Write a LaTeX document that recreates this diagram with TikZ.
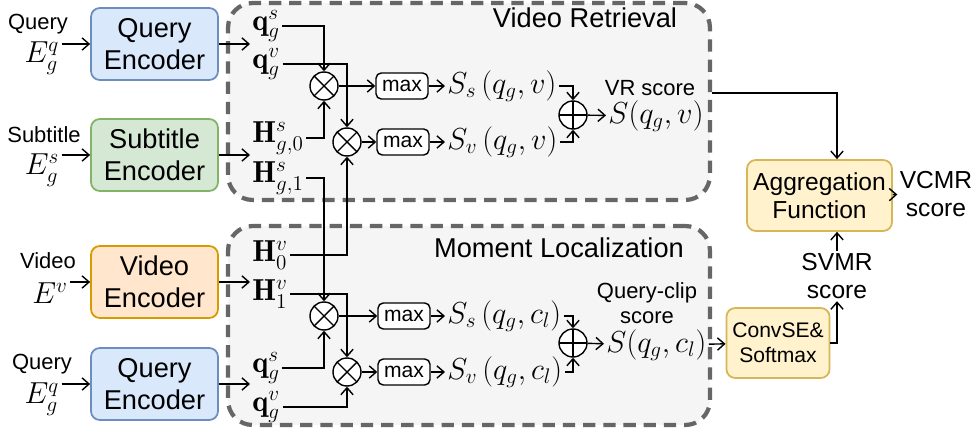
\documentclass[tikz,border=0pt]{standalone}
\usepackage{amsmath,amssymb}
\usepackage{fontspec}
\setsansfont{Liberation Sans}
\usetikzlibrary{arrows.meta}
\usetikzlibrary{positioning}
\definecolor{qfill}{HTML}{DAE8FC}
\definecolor{qdraw}{HTML}{6C8EBF}
\definecolor{sfill}{HTML}{D5E8D4}
\definecolor{sdraw}{HTML}{82B366}
\definecolor{vfill}{HTML}{FFE6CC}
\definecolor{vdraw}{HTML}{D79B00}
\definecolor{afill}{HTML}{FFF2CC}
\definecolor{adraw}{HTML}{D6B656}
\definecolor{regfill}{HTML}{F5F5F5}
\definecolor{regdraw}{HTML}{666666}

\begin{document}
\begin{tikzpicture}[x=0.02cm, y=-0.02cm, line width=0.8pt,
    >={Straight Barb[length=4pt,width=7pt]},
    enc/.style={draw, rounded corners=5pt, line width=1pt, minimum width=2.54cm, minimum height=1.44cm, align=center, font=\sffamily\fontsize{15.5}{18}\selectfont},
    region/.style={draw=regdraw, fill=regfill, dash pattern=on 7pt off 4.5pt, line width=2.4pt, rounded corners=14pt, minimum width=9.64cm, inner sep=0pt},
    lab/.style={font=\sffamily\fontsize{12.5}{14}\selectfont, inner sep=1pt, align=center},
    title/.style={font=\sffamily\fontsize{15.5}{18}\selectfont, inner sep=1pt},
    vec/.style={font=\fontsize{17.28}{20}\selectfont, inner sep=1pt},
    maxbox/.style={draw, fill=white, rounded corners=3pt, minimum width=1.04cm, minimum height=0.52cm, inner sep=0pt, font=\sffamily\fontsize{12}{14}\selectfont},
    mul/.style={circle, draw, fill=white, minimum size=0.56cm, inner sep=0pt,
        path picture={\draw (path picture bounding box.north west) -- (path picture bounding box.south east)
            (path picture bounding box.north east) -- (path picture bounding box.south west);}},
    add/.style={circle, draw, fill=white, minimum size=0.56cm, inner sep=0pt,
        path picture={\draw (path picture bounding box.north) -- (path picture bounding box.south)
            (path picture bounding box.west) -- (path picture bounding box.east);}},
    score/.style={draw=adraw, fill=afill, rounded corners=5pt, line width=1pt, align=center}]
    \useasboundingbox (0,0) rectangle (976,432);
    % the two dashed stages
    \node[region, minimum height=3.94cm] (vrbox) at (469,101.5) {};
    \node[region, minimum height=3.98cm] (mlbox) at (469,325.5) {};
    \node[title] (vrtitle) at (585,18) {Video Retrieval};
    \node[title] (mltitle) at (559,248) {Moment Localization};
    % encoders and their inputs
    \node[enc, fill=qfill, draw=qdraw] (qenc1) at (154.5,44) {Query\\Encoder};
    \node[enc, fill=sfill, draw=sdraw] (senc) at (154.5,155) {Subtitle\\Encoder};
    \node[enc, fill=vfill, draw=vdraw] (venc) at (154.5,282) {Video\\Encoder};
    \node[enc, fill=qfill, draw=qdraw] (qenc2) at (154.5,384) {Query\\Encoder};
    \node[lab] (qin1) at (38,24) {Query};
    \node[lab] (sin) at (44,135) {Subtitle};
    \node[lab] (vin) at (48,261) {Video};
    \node[lab] (qin2) at (42,364) {Query};
    \node[vec] (eq1) at (42,58) {$E_g^q$};
    \node[vec] (es) at (42,170) {$E_g^s$};
    \node[vec] (ev) at (50,293) {$E^v$};
    \node[vec] (eq2) at (42,399) {$E_g^q$};
    \draw[->] (eq1.east |- qenc1) -- (qenc1);
    \draw[->] (es.east |- senc) -- (senc);
    \draw[->] (ev.east |- venc) -- (venc);
    \draw[->] (eq2.east |- qenc2) -- (qenc2);
    % features
    \node[vec, anchor=west] (qs1) at (250,26) {$\mathbf{q}_g^s$};
    \node[vec, anchor=west] (qv1) at (250,64) {$\mathbf{q}_g^v$};
    \node[vec, anchor=west] (hs0) at (250,138) {$\mathbf{H}_{g,0}^s$};
    \node[vec, anchor=west] (hs1) at (250,178) {$\mathbf{H}_{g,1}^s$};
    \node[vec, anchor=west] (hv0) at (250,255) {$\mathbf{H}_0^v$};
    \node[vec, anchor=west] (hv1) at (250,294) {$\mathbf{H}_1^v$};
    \node[vec, anchor=west] (qs2) at (250,368) {$\mathbf{q}_g^s$};
    \node[vec, anchor=west] (qv2) at (250,407) {$\mathbf{q}_g^v$};
    \draw[->] (qenc1) -- (qenc1 -| qs1.west);
    \draw[->] (senc) -- (senc -| hs0.west);
    \draw[->] (venc) -- (venc -| hv1.west);
    \draw[->] (qenc2) -- (qenc2 -| qs2.west);
    % products and max pooling
    \node[mul] (mul1) at (324,86) {};
    \node[mul] (mul2) at (347,142) {};
    \node[mul] (mul3) at (324,316) {};
    \node[mul] (mul4) at (347,372) {};
    \draw[->] (qs1.east) -| (mul1);
    \draw[->] (qv1.east) -| (mul2);
    \draw[->] (hs0.east) -| (mul1);
    \draw[->] (hs1.east) -| (mul3);
    \draw[->] (hv0.east) -| (mul2);
    \draw[->] (hv1.east) -| (mul4);
    \draw[->] (qs2.east) -| (mul3);
    \draw[->] (qv2.east) -| (mul4);
    \node[maxbox] (max1) at (402,86) {max};
    \node[maxbox] (max2) at (403,142) {max};
    \node[maxbox] (max3) at (404,316) {max};
    \node[maxbox] (max4) at (404,372) {max};
    \draw[->] (mul1) -- (max1);
    \draw[->] (mul2) -- (max2);
    \draw[->] (mul3) -- (max3);
    \draw[->] (mul4) -- (max4);
    % scores
    \node[vec, anchor=west] (ss1) at (445,86) {$S_s\,(q_g,v)$};
    \node[vec, anchor=west] (sv1) at (445,142) {$S_v\,(q_g,v)$};
    \node[vec, anchor=west] (ss2) at (445,316) {$S_s\,(q_g,c_l)$};
    \node[vec, anchor=west] (sv2) at (445,372) {$S_v\,(q_g,c_l)$};
    \draw[->] (max1) -- (ss1);
    \draw[->] (max2) -- (sv1);
    \draw[->] (max3) -- (ss2);
    \draw[->] (max4) -- (sv2);
    \node[add] (add1) at (573,115) {};
    \node[add] (add2) at (573,343) {};
    \draw[->] (ss1.east) -| (add1);
    \draw[->] (sv1.east) -| (add1);
    \draw[->] (ss2.east) -| (add2);
    \draw[->] (sv2.east) -| (add2);
    \node[vec, anchor=west] (svr) at (606,116) {$S(q_g,v)$};
    \node[vec, anchor=west] (sml) at (604,345) {$S(q_g,c_l)$};
    \node[lab] (vrlab) at (650,88) {VR score};
    \node[lab] (qclab) at (647,303) {Query-clip\\score};
    \draw[->] (add1) -- (svr);
    \draw[->] (add2) -- (sml);
    % aggregation
    \node[score, minimum width=2.9cm, minimum height=1.42cm, font=\sffamily\fontsize{14}{16}\selectfont] (agg) at (819.5,195.5) {Aggregation\\Function};
    \node[score, minimum width=2cm, minimum height=1.4cm, font=\sffamily\fontsize{12}{14}\selectfont] (conv) at (778,343) {ConvSE\&\\Softmax};
    \node[lab, font=\sffamily\fontsize{14}{16}\selectfont] (vcmr) at (936,194) {VCMR\\score};
    \node[lab, font=\sffamily\fontsize{14}{16}\selectfont] (svmr) at (837,276) {SVMR\\score};
    \draw[->] (vrbox.east |- 0,93) -| ([xshift=0.35cm]agg.north);
    \draw[->] (sml) -- (conv);
    \draw[->] (conv.east) -| (svmr.south);
    \draw[->] (svmr.north) -- (svmr.north |- agg.south);
    \draw[->] (agg) -- (vcmr);
\end{tikzpicture}
\end{document}
